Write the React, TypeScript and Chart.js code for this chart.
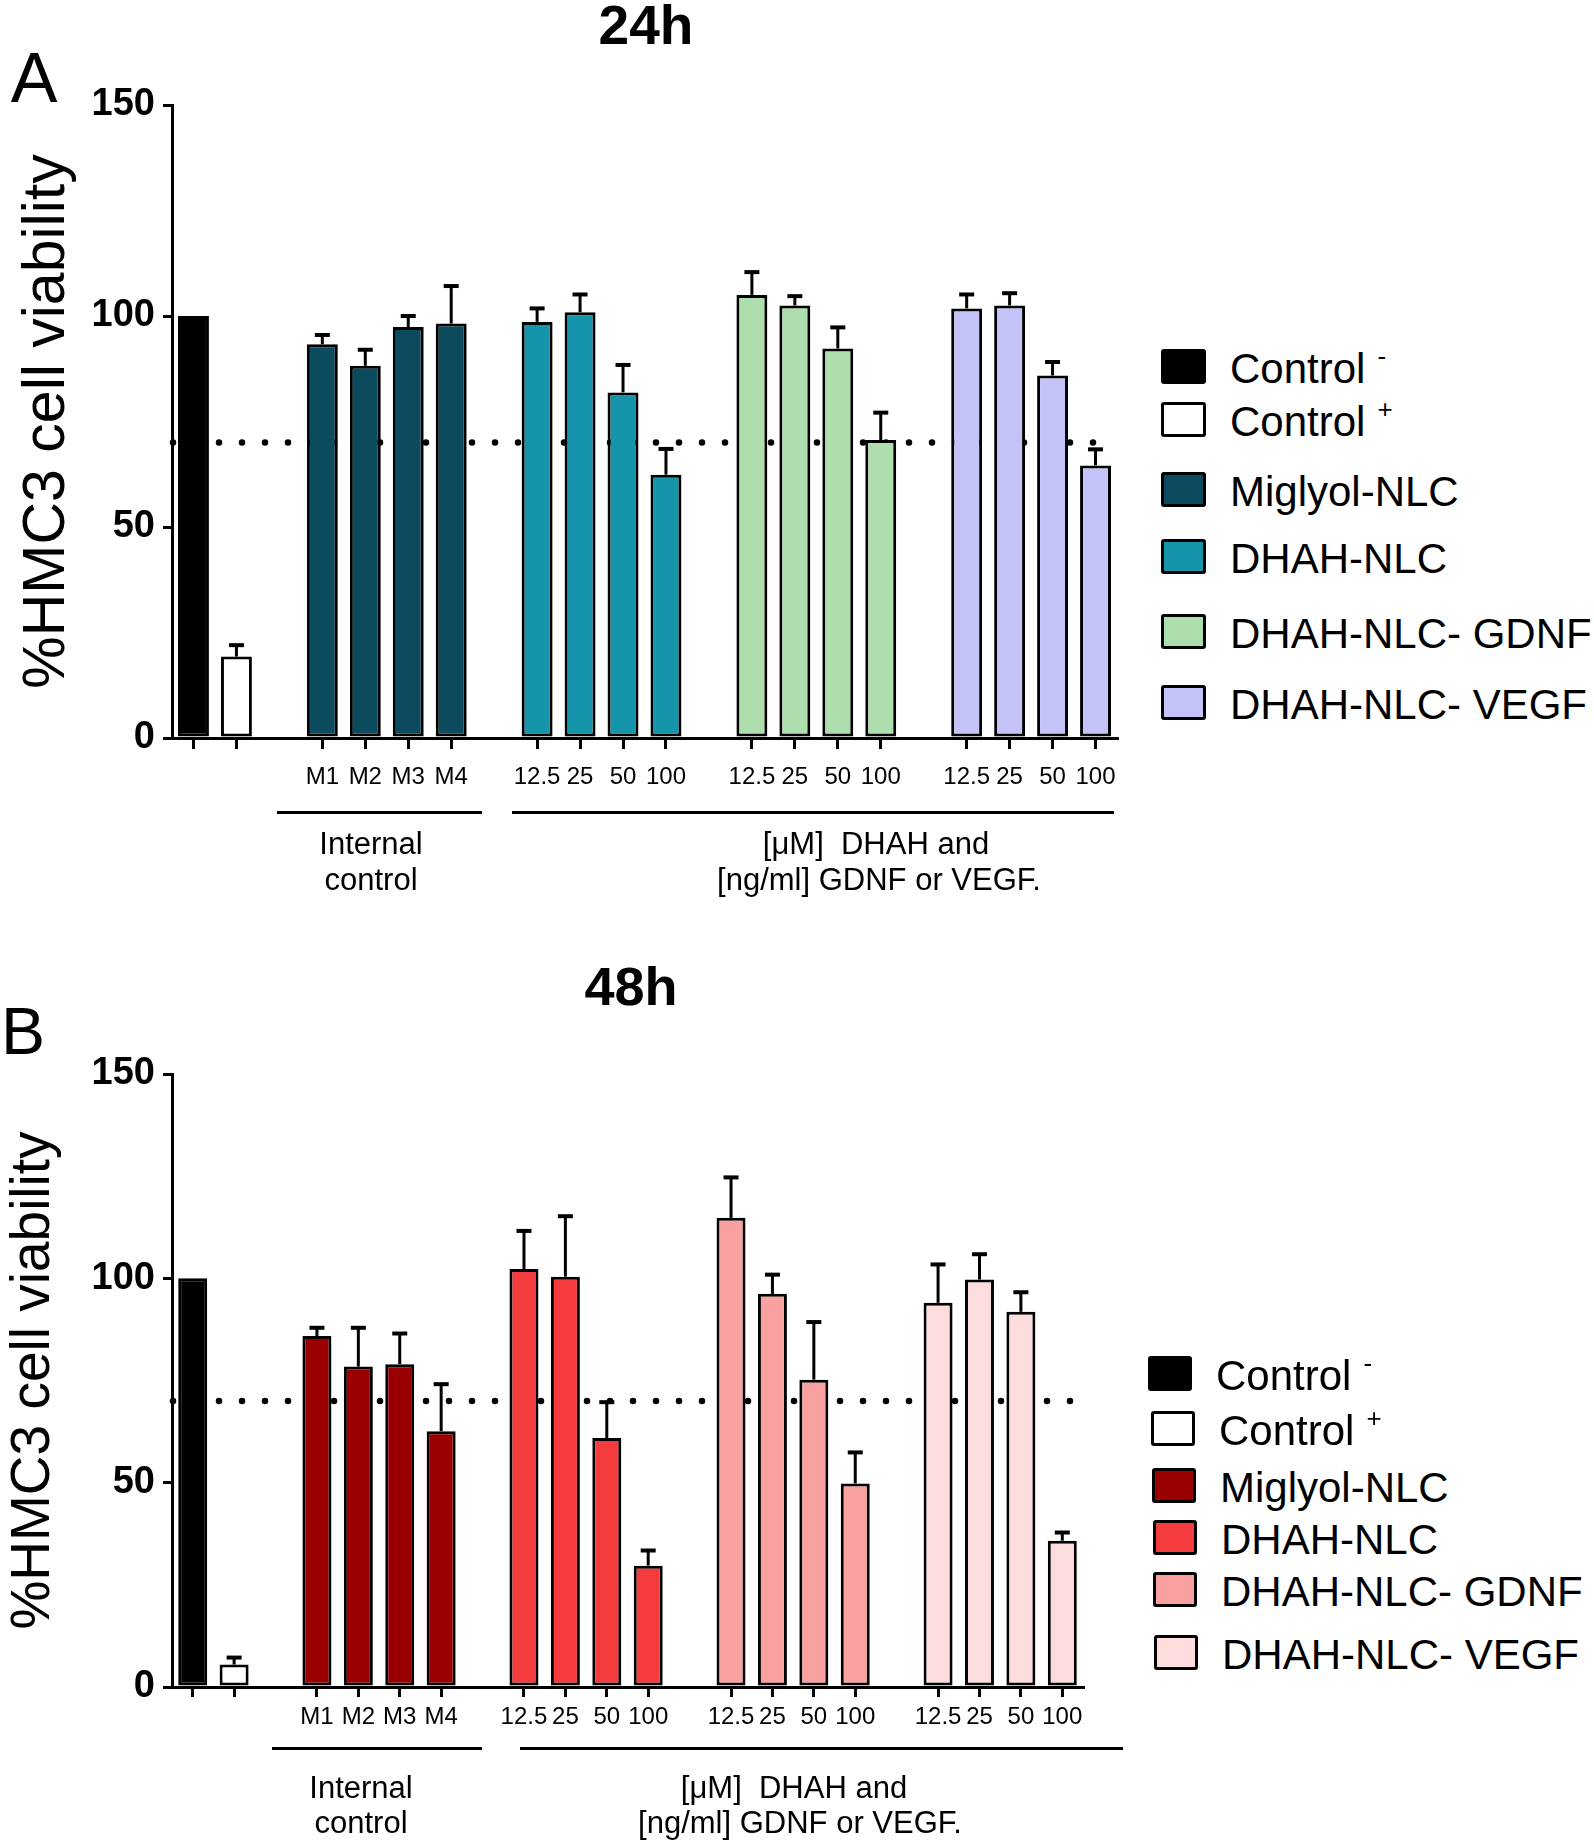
import React, { useEffect, useRef } from 'react';
import { Chart, registerables } from 'chart.js';

Chart.register(...registerables);

const FONT = '"Liberation Sans", Arial, "DejaVu Sans", sans-serif';

// ---------- categories / ticks ----------
const internalLabels = ['M1', 'M2', 'M3', 'M4'];
const doseLabels = ['12.5', '25', '50', '100'];
const slotLabels = ['', '', '', ...internalLabels, '', ...doseLabels, '', ...doseLabels, '', ...doseLabels];
const gapSlots = [2, 7, 12, 17];
const yTicks = [0, 50, 100, 150];
const viabilityThreshold = 70;

const seriesNames = ['Control', 'Control', 'Miglyol-NLC', 'DHAH-NLC', 'DHAH-NLC- GDNF', 'DHAH-NLC- VEGF'];
const seriesSup = ['-', '+', '', '', '', ''];

// ---------- 24h values (mean, SEM) ----------
const h24Controls = [100, 19.3];
const h24ControlsSem = [null, 2.7];
const h24Miglyol = [93.3, 88.2, 97.4, 98.2];
const h24MiglyolSem = [2.2, 3.8, 2.6, 8.9];
const h24Dhah = [98.6, 100.9, 81.9, 62.4];
const h24DhahSem = [3.2, 4.2, 6.5, 6.1];
const h24Gdnf = [105.0, 102.5, 92.3, 70.6];
const h24GdnfSem = [5.4, 2.2, 5.0, 6.5];
const h24Vegf = [101.8, 102.5, 85.9, 64.6];
const h24VegfSem = [3.3, 2.9, 3.2, 3.8];

// ---------- 48h values (mean, SEM) ----------
const h48Controls = [100, 5.5];
const h48ControlsSem = [null, 1.7];
const h48Miglyol = [85.9, 78.4, 79.0, 62.6];
const h48MiglyolSem = [2.0, 9.5, 7.5, 11.5];
const h48Dhah = [102.3, 100.4, 60.9, 29.7];
const h48DhahSem = [9.3, 14.8, 8.8, 3.7];
const h48Gdnf = [114.8, 96.2, 75.2, 49.8];
const h48GdnfSem = [9.9, 4.7, 14.1, 7.6];
const h48Vegf = [94.0, 99.7, 91.8, 35.8];
const h48VegfSem = [9.4, 6.2, 4.8, 2.0];

const colors24 = ['#000000', '#ffffff', '#0B4B5D', '#1695AA', '#AEDEAE', '#C3C3F7'];
const colors48 = ['#000000', '#ffffff', '#9A0000', '#F43B3D', '#F9A0A0', '#FCDCDC'];

function buildDatasets(controls, controlsSem, groups, groupsSem, colors, barPct) {
  const base = {
    borderColor: '#000',
    borderWidth: 3,
    borderSkipped: false,
    grouped: false,
    barPercentage: barPct,
    categoryPercentage: 1,
  };
  const out: any[] = [];
  for (let c = 0; c < 2; c++) {
    const data = slotLabels.map(() => null as number | null);
    const errors = slotLabels.map(() => null as number | null);
    data[c] = controls[c];
    errors[c] = controlsSem[c];
    out.push({ ...base, label: seriesNames[c] + ' ' + seriesSup[c], data, errors, backgroundColor: colors[c] });
  }
  groups.forEach((vals, g) => {
    const data = slotLabels.map(() => null as number | null);
    const errors = slotLabels.map(() => null as number | null);
    const start = 3 + g * 5;
    vals.forEach((v, k) => {
      data[start + k] = v;
      errors[start + k] = groupsSem[g][k];
    });
    out.push({ ...base, label: seriesNames[g + 2], data, errors, backgroundColor: colors[g + 2] });
  });
  return out;
}

const errorBarPlugin = {
  id: 'errorBars',
  afterDatasetsDraw(chart) {
    const ctx = chart.ctx;
    const y = chart.scales.y;
    chart.data.datasets.forEach((ds, di) => {
      const meta = chart.getDatasetMeta(di);
      ds.errors.forEach((e, i) => {
        if (e == null || ds.data[i] == null) return;
        const bar = meta.data[i];
        const top = y.getPixelForValue(ds.data[i] + e);
        ctx.save();
        ctx.strokeStyle = '#000';
        ctx.lineWidth = 3;
        ctx.beginPath();
        ctx.moveTo(bar.x, bar.y);
        ctx.lineTo(bar.x, top);
        ctx.stroke();
        ctx.lineWidth = 4;
        ctx.beginPath();
        ctx.moveTo(bar.x - 7.5, top);
        ctx.lineTo(bar.x + 7.5, top);
        ctx.stroke();
        ctx.restore();
      });
    });
  },
};

const thresholdPlugin = {
  id: 'threshold',
  beforeDatasetsDraw(chart) {
    const { ctx, chartArea } = chart;
    const x = chart.scales.x;
    const y = chart.scales.y;
    const yy = y.getPixelForValue(viabilityThreshold);
    const xEnd = x.getPixelForValue(slotLabels.length - 1) + 10;
    ctx.save();
    ctx.setLineDash([0, 23]);
    ctx.lineCap = 'round';
    ctx.lineWidth = 6.5;
    ctx.strokeStyle = '#000';
    ctx.beginPath();
    ctx.moveTo(chartArea.left + 1, yy);
    ctx.lineTo(xEnd, yy);
    ctx.stroke();
    ctx.restore();
  },
};

function PanelChart({ datasets, width, height, pageTop, area, tickPad, tickLen, titleSize, titlePad }) {
  const ref = useRef<HTMLCanvasElement>(null);
  useEffect(() => {
    const chart = new Chart(ref.current as HTMLCanvasElement, {
      type: 'bar',
      data: { labels: slotLabels, datasets },
      plugins: [thresholdPlugin, errorBarPlugin],
      options: {
        responsive: false,
        maintainAspectRatio: false,
        animation: false,
        devicePixelRatio: 1,
        layout: { padding: { left: 0, top: area.top, right: width - area.right, bottom: 0 } },
        plugins: { legend: { display: false }, tooltip: { enabled: false }, title: { display: false } },
        scales: {
          x: {
            type: 'category',
            offset: true,
            grid: {
              display: true,
              drawOnChartArea: false,
              offset: false,
              tickLength: tickLen,
              lineWidth: 3,
              color: (c) => (gapSlots.includes(c.index) ? 'rgba(0,0,0,0)' : '#000'),
            },
            border: { display: true, color: '#000', width: 3 },
            ticks: {
              autoSkip: false,
              maxRotation: 0,
              minRotation: 0,
              padding: tickPad,
              color: '#000',
              font: { family: FONT, size: 24 },
            },
            afterFit: (s) => {
              s.height = height - area.bottom;
            },
          },
          y: {
            min: 0,
            max: 150,
            afterBuildTicks: (s) => {
              s.ticks = yTicks.map((v) => ({ value: v }));
            },
            grid: { display: true, drawOnChartArea: false, tickLength: 9, lineWidth: 3, color: '#000' },
            border: { display: true, color: '#000', width: 3 },
            ticks: { padding: 8, color: '#000', font: { family: FONT, size: 38, weight: 'bold' } },
            title: {
              display: true,
              text: '%HMC3 cell viability',
              color: '#000',
              font: { family: FONT, size: titleSize },
              padding: { top: titlePad, bottom: 0 },
            },
            afterFit: (s) => {
              s.width = area.left;
            },
          },
        },
      } as any,
    });
    return () => chart.destroy();
  }, []);
  return (
    <canvas
      ref={ref}
      width={width}
      height={height}
      style={{ position: 'absolute', left: 0, top: pageTop, width, height }}
    />
  );
}

function Txt({ x, y, size, bold = false, children }) {
  return (
    <div
      style={{
        position: 'absolute',
        left: x,
        top: y,
        transform: 'translate(-50%, -50%)',
        fontFamily: FONT,
        fontSize: size,
        fontWeight: bold ? 'bold' : 'normal',
        lineHeight: 1,
        whiteSpace: 'pre',
        color: '#000',
      }}
    >
      {children}
    </div>
  );
}

function HLine({ x1, x2, y }) {
  return <div style={{ position: 'absolute', left: x1, top: y - 1, width: x2 - x1, height: 3, background: '#000' }} />;
}

function Legend({ colors, boxes, boxW, fontSize }) {
  return (
    <>
      {seriesNames.map((n, i) => (
        <div
          key={i}
          style={{
            position: 'absolute',
            left: boxes[i][0],
            top: boxes[i][1],
            height: 35,
            display: 'flex',
            alignItems: 'center',
            whiteSpace: 'nowrap',
          }}
        >
          <div
            style={{
              width: boxW,
              height: 35,
              boxSizing: 'border-box',
              border: '3px solid #000',
              borderRadius: 3,
              background: colors[i],
              flex: 'none',
            }}
          />
          <span style={{ marginLeft: 24, fontSize, lineHeight: 1, fontFamily: FONT, color: '#000', position: 'relative', top: 2 }}>
            {n}
            {seriesSup[i] ? (
              <span style={{ fontSize: 26, position: 'relative', top: -18, marginLeft: 12 }}>{seriesSup[i]}</span>
            ) : null}
          </span>
        </div>
      ))}
    </>
  );
}

export default function App() {
  const ds24 = buildDatasets(
    h24Controls,
    h24ControlsSem,
    [h24Miglyol, h24Dhah, h24Gdnf, h24Vegf],
    [h24MiglyolSem, h24DhahSem, h24GdnfSem, h24VegfSem],
    colors24,
    0.72
  );
  const ds48 = buildDatasets(
    h48Controls,
    h48ControlsSem,
    [h48Miglyol, h48Dhah, h48Gdnf, h48Vegf],
    [h48MiglyolSem, h48DhahSem, h48GdnfSem, h48VegfSem],
    colors48,
    0.7
  );
  return (
    <div style={{ position: 'absolute', left: 0, top: 0, width: 1594, height: 1843, background: '#fff', overflow: 'hidden' }}>
      <PanelChart
        datasets={ds24}
        width={1150}
        height={940}
        pageTop={0}
        area={{ left: 172, right: 1117, top: 105, bottom: 738 }}
        tickPad={14}
        tickLen={11}
        titleSize={59}
        titlePad={12}
      />
      <PanelChart
        datasets={ds48}
        width={1150}
        height={903}
        pageTop={940}
        area={{ left: 172, right: 1083, top: 134, bottom: 747 }}
        tickPad={6}
        tickLen={10}
        titleSize={55}
        titlePad={1}
      />

      <Txt x={34} y={78} size={70}>A</Txt>
      <Txt x={646} y={25} size={55} bold>24h</Txt>
      <Txt x={23} y={1031} size={66}>B</Txt>
      <Txt x={631} y={986} size={54} bold>48h</Txt>

      <HLine x1={277} x2={482} y={812} />
      <HLine x1={512} x2={1114} y={812} />
      <Txt x={371} y={843} size={31}>Internal</Txt>
      <Txt x={371} y={879} size={31}>control</Txt>
      <Txt x={876} y={843} size={31}>{'[μM]  DHAH and'}</Txt>
      <Txt x={879} y={879} size={31}>{'[ng/ml] GDNF or VEGF.'}</Txt>

      <HLine x1={272} x2={482} y={1748} />
      <HLine x1={520} x2={1123} y={1748} />
      <Txt x={361} y={1787} size={31}>Internal</Txt>
      <Txt x={361} y={1822} size={31}>control</Txt>
      <Txt x={794} y={1787} size={31}>{'[μM]  DHAH and'}</Txt>
      <Txt x={800} y={1822} size={31}>{'[ng/ml] GDNF or VEGF.'}</Txt>

      <Legend
        colors={colors24}
        boxes={[[1161, 349], [1161, 402], [1161, 472], [1161, 539], [1161, 614], [1161, 685]]}
        boxW={45}
        fontSize={42}
      />
      <Legend
        colors={colors48}
        boxes={[[1148, 1356], [1151, 1411], [1152, 1468], [1153, 1520], [1153, 1572], [1154, 1635]]}
        boxW={44}
        fontSize={42}
      />
    </div>
  );
}
